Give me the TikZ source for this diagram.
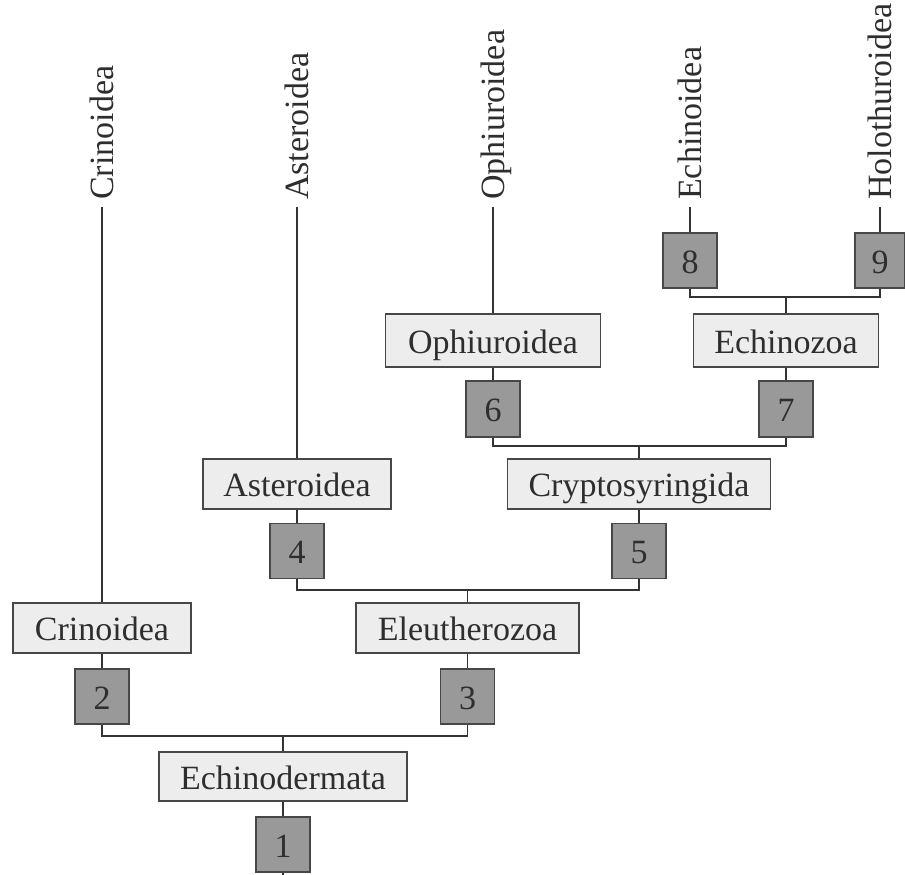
\documentclass[tikz,border=0pt]{standalone}
\usepackage{fontspec}
\setmainfont{Liberation Serif}
\begin{document}
\begin{tikzpicture}[x=1pt,y=-1pt,
  every node/.style={font=\fontsize{34}{40}\selectfont, text=black!82},
  taxon/.style={draw=black!72, line width=1.6pt, fill=black!7, minimum height=50pt, inner sep=0pt, text height=25pt, text depth=0pt},
  numbox/.style={draw=black!72, line width=1.6pt, fill=black!40, minimum width=54pt, minimum height=55pt, inner sep=0pt, text height=25pt, text depth=0pt},
  vlabel/.style={rotate=90, anchor=west, inner xsep=7pt, inner ysep=0pt, text height=23pt, text depth=0pt},
  conn/.style={draw=black!80, line width=1.5pt}]
\useasboundingbox (0,0) rectangle (905,875);
% taxon boxes
\node[taxon, minimum width=178pt] (crin)  at (102,628) {Crinoidea};
\node[taxon, minimum width=223pt] (eleu)  at (467.5,628) {Eleutherozoa};
\node[taxon, minimum width=248pt, minimum height=49pt] (echino) at (283,776.5) {Echinodermata};
\node[taxon, minimum width=188pt] (aster) at (297,484) {Asteroidea};
\node[taxon, minimum width=263pt] (crypt) at (639,484) {Cryptosyringida};
\node[taxon, minimum width=215pt, minimum height=53pt] (oph) at (493,340.5) {Ophiuroidea};
\node[taxon, minimum width=185pt, minimum height=53pt] (echz) at (786,340.5) {Echinozoa};
% number boxes
\node[numbox] (n1) at (283,844.5) {1};
\node[numbox] (n2) at (102,696.5) {2};
\node[numbox] (n3) at (467.5,696.5) {3};
\node[numbox] (n4) at (297,551) {4};
\node[numbox] (n5) at (639,551) {5};
\node[numbox, minimum height=56pt] (n6) at (493,409) {6};
\node[numbox, minimum height=56pt] (n7) at (786,409) {7};
\node[numbox] (n8) at (690,260.5) {8};
\node[numbox, minimum width=50pt] (n9) at (880,260.5) {9};
% vertical labels
\node[vlabel] (lcrin)  at (102,207) {Crinoidea};
\node[vlabel] (laster) at (297,207) {Asteroidea};
\node[vlabel] (loph)   at (493,207) {Ophiuroidea};
\node[vlabel] (lechi)  at (690,207) {Echinoidea};
\node[vlabel] (lholo)  at (880,207) {Holothuroidea};
% junctions
\coordinate (j1) at (283,736);
\coordinate (j2) at (467.5,590);
\coordinate (j3) at (639,446);
\coordinate (j4) at (786,297);
\coordinate (bot) at (283,875);
% connectors
\draw[conn] (n1.south) -- (bot);
\draw[conn] (n1.north) -- (echino.south);
\draw[conn] (echino.north) -- (j1);
\draw[conn] (n2.south) |- (j1) -| (n3.south);
\draw[conn] (n2.north) -- (crin.south);
\draw[conn] (n3.north) -- (eleu.south);
\draw[conn] (crin.north) -- (lcrin.west);
\draw[conn] (eleu.north) -- (j2);
\draw[conn] (n4.south) |- (j2) -| (n5.south);
\draw[conn] (n4.north) -- (aster.south);
\draw[conn] (n5.north) -- (crypt.south);
\draw[conn] (aster.north) -- (laster.west);
\draw[conn] (crypt.north) -- (j3);
\draw[conn] (n6.south) |- (j3) -| (n7.south);
\draw[conn] (n6.north) -- (oph.south);
\draw[conn] (n7.north) -- (echz.south);
\draw[conn] (oph.north) -- (loph.west);
\draw[conn] (echz.north) -- (j4);
\draw[conn] (n8.south) |- (j4) -| (n9.south);
\draw[conn] (n8.north) -- (lechi.west);
\draw[conn] (n9.north) -- (lholo.west);
\end{tikzpicture}
\end{document}
